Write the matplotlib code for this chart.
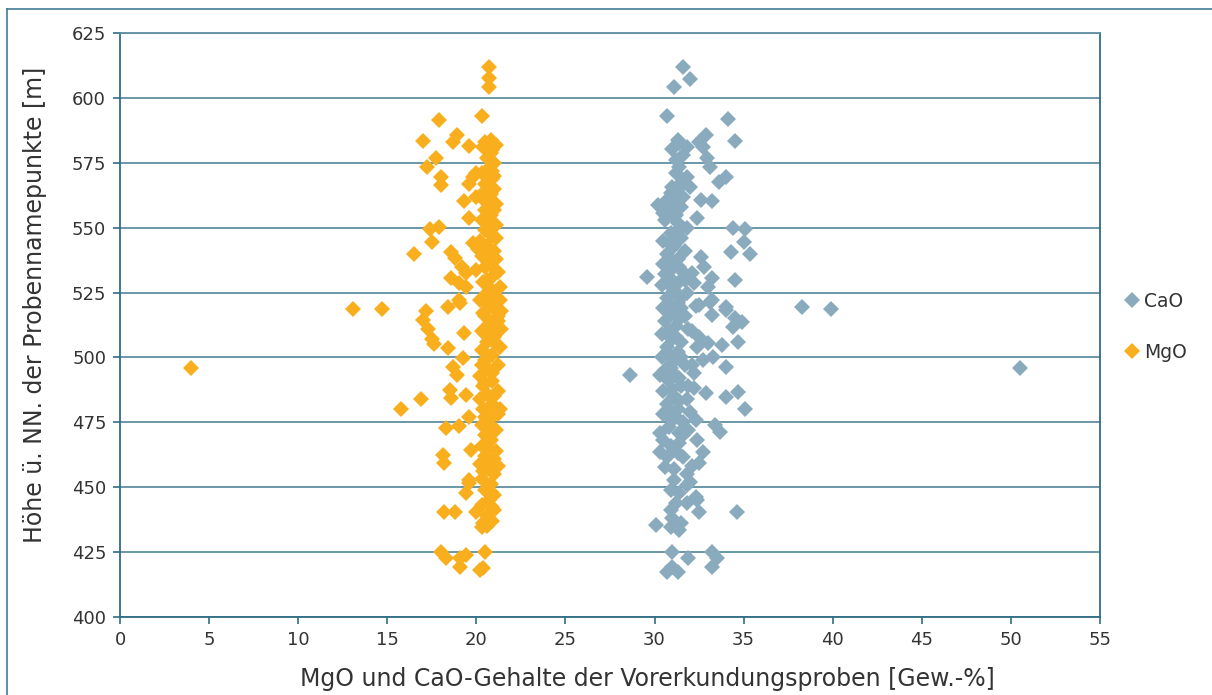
import matplotlib
matplotlib.use("Agg")
import matplotlib.pyplot as plt
from matplotlib.lines import Line2D

plt.rcParams['font.family'] = ['DejaVu Sans']

# ---------------- data ----------------
mgo_points = [
    (4.0, 496), (13.1, 518.6), (14.7, 518.6), (15.75, 480), (16.5, 539.8), (16.9, 483.8),
    (17.2, 518), (17.0, 514.5), (17.3, 511), (17.5, 507), (17.6, 505),
    (18.4, 519.3), (19.1, 521), (18.4, 503.5), (18.7, 496.4), (18.9, 493.2), (18.5, 487.4), (18.6, 484.2),
    (18.3, 472.7), (19.0, 473.5), (18.1, 462.4), (18.2, 459.2), (18.2, 440.3), (18.8, 440.3),
    (18.0, 425.1), (18.3, 422.5), (19.1, 422.5), (19.1, 419.3), (19.4, 423.8), (20.5, 424.8),
    (20.2, 418), (20.4, 418.7),
    (19.4, 447.6), (19.6, 451.4), (20.0, 440.5), (20.3, 434.7), (20.9, 442.4),
    (19.3, 509.3), (19.25, 499.6), (19.4, 485.5), (19.6, 477.1), (19.7, 464.3), (19.6, 452.7),
    (20.7, 612.1), (20.7, 607.6), (20.7, 604.4), (20.3, 593.1), (17.9, 591.6), (17.0, 583.5),
    (18.9, 585.8), (18.7, 583.2), (19.6, 581.5),
    (20.4, 581), (20.8, 584), (21.0, 581.5), (20.9, 580),
    (17.75, 576.8), (17.25, 573.5), (18.0, 569.7), (18.0, 566.5), (19.8, 569.7), (19.6, 567),
    (19.3, 560.3), (19.6, 553.6),
    (17.4, 549.4), (17.9, 550.4), (17.5, 544.6), (18.6, 540.8), (18.8, 538.2), (19.2, 535),
    (18.6, 530.5), (19.4, 532.4), (19.0, 528.6), (19.4, 527.3), (19.0, 522.1), (20.0, 533.7),
    (19.8, 544), (20.1, 542), (20.0, 562), (20.0, 571),
    # dense column
    (20.4, 436), (20.9, 437), (20.6, 439), (21.0, 441), (20.3, 443), (20.7, 445), (21.0, 447), (20.5, 449),
    (20.8, 451), (20.3, 453), (21.0, 455), (20.6, 457), (20.2, 459), (20.9, 460), (20.5, 462), (21.1, 464),
    (20.3, 466), (20.8, 468), (20.5, 470), (21.1, 472), (20.3, 474), (20.7, 476), (21.2, 478), (20.4, 480),
    (20.9, 482), (20.2, 484), (20.6, 486), (21.2, 487), (20.4, 489), (20.9, 491), (20.2, 493), (20.7, 495),
    (21.2, 497), (20.5, 499), (20.9, 501), (20.3, 503), (21.3, 504), (20.6, 506), (21.0, 508), (20.3, 510),
    (21.4, 511), (20.7, 513), (21.1, 515), (20.4, 517), (21.4, 518), (20.8, 520), (20.2, 522), (21.1, 523),
    (20.6, 525), (21.3, 527), (20.4, 529), (20.9, 531), (21.2, 533), (20.5, 535), (20.9, 537), (20.3, 539),
    (21.0, 541), (20.6, 543), (20.2, 545), (20.9, 547), (20.5, 549), (21.1, 551), (20.3, 553), (20.8, 555),
    (20.5, 557), (21.1, 559), (20.4, 561), (20.8, 563), (21.0, 565), (20.5, 567), (20.9, 569), (20.3, 571),
    (20.7, 573), (21.0, 575), (20.6, 577), (20.8, 579), (21.1, 582), (20.5, 583),
    (20.6, 435), (20.8, 448), (20.4, 456), (21.0, 461), (20.6, 465), (20.9, 473), (20.5, 477), (20.8, 481),
    (21.0, 485), (20.5, 490), (20.9, 494), (20.3, 497), (20.7, 500), (21.1, 505), (20.5, 509), (20.9, 512),
    (21.2, 514), (20.5, 516), (21.0, 519), (20.6, 521), (21.3, 522), (20.9, 526), (20.6, 530), (21.0, 534),
    (20.7, 538), (20.5, 542), (21.1, 546), (20.7, 550), (20.6, 554), (21.0, 557), (20.7, 560), (20.5, 564),
    (20.9, 572), (20.7, 566), (21.0, 570), (21.3, 480), (21.2, 458), (21.1, 538), (21.2, 516),
]

cao_points = [
    (31.6, 612.1), (32.0, 607.4), (31.1, 604.4), (30.7, 593.1), (34.1, 591.8), (34.5, 583.6),
    (31.0, 580.5), (31.4, 582.5), (31.8, 581), (31.3, 584), (32.9, 585.8), (32.5, 583.2), (32.7, 581.3),
    (32.95, 576.8), (33.1, 573.5), (33.6, 567.8), (34.0, 569.7),
    (32.6, 560.7), (33.2, 560.3), (32.4, 553.6),
    (34.4, 550), (35.1, 549.4), (35.0, 544.6), (34.3, 540.5), (35.35, 539.9),
    (32.6, 538.8), (32.8, 535), (33.2, 530.5), (33.0, 527.3), (34.5, 529.8), (29.55, 530.9),
    (32.2, 528.6), (32.1, 532.4),
    (33.2, 522.1), (34.0, 519.6), (33.1, 521.5), (34.0, 518.3), (34.5, 515.1), (34.9, 513.8),
    (34.4, 511.8), (34.7, 506.1), (33.2, 516.4), (32.5, 520.2),
    (32.5, 508), (33.0, 505.4), (33.8, 504.8), (33.3, 500.3), (32.7, 499), (34.0, 496.4),
    (28.6, 493.2), (30.3, 493.2),
    (32.2, 488.1), (32.9, 486.2), (34.0, 484.8), (34.7, 486.8), (35.1, 480), (33.4, 473.9), (33.7, 471.3),
    (32.7, 463.6), (32.5, 459.2), (32.0, 452.1), (32.3, 446.3), (32.5, 440.5), (34.6, 440.5), (30.1, 435.4),
    (31.0, 425.1), (31.9, 422.5), (33.2, 425.1), (33.5, 422.5), (33.2, 419.3), (30.7, 417.4),
    (31.3, 417.4), (31.0, 419.3),
    (30.9, 434.7), (31.4, 433.4), (30.9, 441.1), (31.8, 443.7), (32.4, 445), (31.1, 452.7),
    (31.8, 450.8), (31.4, 447.6),
    (30.7, 461.7), (30.3, 463.6), (30.6, 457.8), (31.6, 461.7), (30.5, 468.1), (30.3, 470.7),
    (31.9, 472), (31.4, 466.9), (31.6, 470.1),
    (38.3, 519.4), (39.9, 518.6), (50.5, 495.9),
    (31.4, 573.5), (31.2, 571), (31.8, 569.7), (31.5, 567.1), (31.0, 565.8), (30.9, 563.3), (31.2, 562),
    (30.7, 560.7), (30.2, 558.8), (30.5, 555.6), (31.0, 558.1), (31.6, 562), (32.0, 565.8),
    # dense column
    (30.6, 553), (31.3, 552), (31.8, 550), (30.9, 548), (31.5, 546), (30.5, 545), (31.1, 543), (31.7, 541),
    (30.7, 540), (31.3, 538), (30.5, 536), (31.0, 534), (31.6, 533), (30.8, 531), (31.4, 529), (30.4, 528),
    (31.1, 526), (31.8, 525), (30.7, 523), (31.3, 521), (30.5, 519), (31.0, 517), (31.7, 516), (30.6, 514),
    (31.2, 512), (31.9, 511), (30.4, 509), (31.0, 507), (31.5, 506), (30.7, 504), (31.3, 502), (30.4, 500),
    (31.0, 498), (31.7, 497), (30.6, 495), (31.2, 493), (30.8, 491), (31.5, 489), (30.5, 487), (31.1, 485),
    (31.8, 484), (30.7, 482), (31.3, 480), (30.5, 478), (31.0, 476), (31.6, 475), (30.8, 473),
    (31.0, 555), (31.4, 549), (30.8, 544), (31.4, 535), (30.9, 537), (31.7, 530), (31.0, 527), (30.6, 532),
    (31.5, 523), (30.9, 520), (31.5, 519), (30.8, 510), (31.4, 515), (31.2, 508), (30.8, 501), (31.5, 500),
    (30.9, 496), (31.4, 492), (31.0, 488), (31.4, 483), (30.9, 479), (31.2, 477), (31.4, 471), (30.9, 466),
    (31.1, 457), (31.3, 463), (30.9, 449), (31.2, 444), (31.0, 438), (31.5, 436), (31.2, 555), (31.5, 558),
    (31.3, 565), (31.6, 578), (31.2, 576),
    (32.3, 520), (32.1, 510), (32.4, 504), (32.1, 497), (32.2, 494), (31.9, 489), (32.0, 479), (32.3, 476),
    (32.4, 468), (32.1, 458), (31.8, 455),
]

mgo_x = [p[0] for p in mgo_points]
mgo_y = [p[1] for p in mgo_points]
cao_x = [p[0] for p in cao_points]
cao_y = [p[1] for p in cao_points]

x_ticks = [0, 5, 10, 15, 20, 25, 30, 35, 40, 45, 50, 55]
y_ticks = [400, 425, 450, 475, 500, 525, 550, 575, 600, 625]
series_names = ["CaO", "MgO"]

# ---------------- styling ----------------
CAO_COL = "#8AABBD"
MGO_COL = "#F9AE1D"
GRID_COL = "#5E8FA3"
SPINE_COL = "#2F6E85"
TEXT_COL = "#333333"
MS = 8.6

fig = plt.figure(figsize=(12.12, 6.95), dpi=100)
ax = fig.add_axes([120 / 1212, 1 - 616.7 / 695, 980 / 1212, 583.4 / 695])

ax.plot(cao_x, cao_y, linestyle="none", marker="D", markersize=MS,
        color=CAO_COL, markeredgewidth=0, label=series_names[0], zorder=3)
ax.plot(mgo_x, mgo_y, linestyle="none", marker="D", markersize=MS,
        color=MGO_COL, markeredgewidth=0, label=series_names[1], zorder=3)

ax.set_xlim(0, 55)
ax.set_ylim(400, 625)
ax.set_xticks(x_ticks)
ax.set_yticks(y_ticks)
ax.yaxis.grid(True, color=GRID_COL, linewidth=1.3)
ax.set_axisbelow(True)

for s in ax.spines.values():
    s.set_color(SPINE_COL)
    s.set_linewidth(1.3)
ax.spines['top'].set_color(GRID_COL)

ax.tick_params(axis='both', colors=SPINE_COL, labelcolor=TEXT_COL,
               labelsize=13, length=5, width=1.2, direction='out', pad=5)

ax.set_xlabel("MgO und CaO-Gehalte der Vorerkundungsproben [Gew.-%]",
              fontsize=17, color=TEXT_COL)
ax.set_ylabel("Höhe ü. NN. der Probennamepunkte [m]",
              fontsize=17, color=TEXT_COL)
ax.xaxis.set_label_coords(0.538, -0.086)
ax.yaxis.set_label_coords(-0.074, 0.534)

leg = ax.legend(loc="center left", bbox_to_anchor=(1.01, 0.497), frameon=False,
                fontsize=13.5, handlelength=0.6, handletextpad=0.35, labelspacing=1.7,
                markerscale=1.0, labelcolor=TEXT_COL)

# figure frame (left and top edges visible)
fig.add_artist(Line2D([7 / 1212, 7 / 1212], [0, 1 - 9 / 695], transform=fig.transFigure,
                      color="#3F7D93", linewidth=1.2))
fig.add_artist(Line2D([7 / 1212, 1], [1 - 9 / 695, 1 - 9 / 695], transform=fig.transFigure,
                      color="#3F7D93", linewidth=1.2))

fig.savefig("out.png", dpi=100)
